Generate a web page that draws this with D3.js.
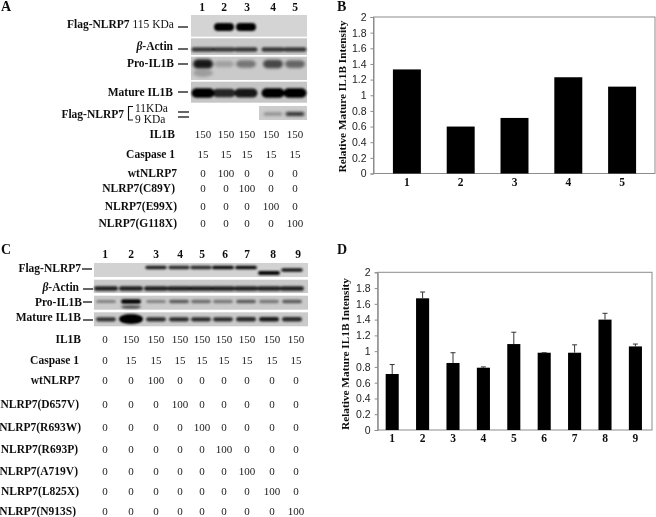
<!DOCTYPE html>
<html><head><meta charset="utf-8">
<script src="https://cdnjs.cloudflare.com/ajax/libs/d3/7.8.5/d3.min.js"></script>
<style>html,body{margin:0;padding:0;background:#fff}svg{display:block}</style>
</head><body><div id="c"></div>
<script>
// ---- data ----
const lanesA = ["1","2","3","4","5"];
const lanesC = ["1","2","3","4","5","6","7","8","9"];
const intensityB = [1.33,0.60,0.71,1.23,1.11];
const intensityD = [0.71,1.67,0.85,0.79,1.09,0.98,0.98,1.40,1.06];
const errorTopD = [0.83,1.75,0.98,0.80,1.24,0.98,1.08,1.48,1.09];
const yTicks = [0,0.2,0.4,0.6,0.8,1,1.2,1.4,1.6,1.8,2];

const rowNamesA = ["IL1B","Caspase 1","wtNLRP7","NLRP7(C89Y)","NLRP7(E99X)","NLRP7(G118X)"];
const doseA = [
 [150,150,150,150,150],[15,15,15,15,15],[0,100,0,0,0],[0,0,100,0,0],[0,0,0,100,0],[0,0,0,0,100]];
const rowNamesC = ["IL1B","Caspase 1","wtNLRP7","NLRP7(D657V)","NLRP7(R693W)","NLRP7(R693P)","NLRP7(A719V)","NLRP7(L825X)","NLRP7(N913S)"];
const doseC = [
 [0,150,150,150,150,150,150,150,150],
 [0,15,15,15,15,15,15,15,15],
 [0,0,100,0,0,0,0,0,0],
 [0,0,0,100,0,0,0,0,0],
 [0,0,0,0,100,0,0,0,0],
 [0,0,0,0,0,100,0,0,0],
 [0,0,0,0,0,0,100,0,0],
 [0,0,0,0,0,0,0,100,0],
 [0,0,0,0,0,0,0,0,100]];

// band darkness per lane, read by eye from the blots
const blotA115 = [0,1,1,0,0];
const blotAactin = [.72,.7,.72,.72,.72];
const blotApro = [.88,.2,.42,.65,.5];
const blotAmature = [1,.8,.88,1,1];
const blotAsmall = [0,0,0,.35,.78];
const blotCflag = [0,0,.85,.8,.8,.95,.95,.98,.9];
const blotCactin = [.85,.85,.85,.85,.85,.85,.85,.85,.85];
const blotCpro = [.36,1,.36,.55,.46,.4,.55,.4,.56];
const blotCmature = [.75,1,.78,.78,.78,.78,.8,.88,.8];

// ---- drawing ----
const W=656,H=517;
const svg=d3.select("#c").append("svg").attr("width",W).attr("height",H);
const defs=svg.append("defs");
defs.append("filter").attr("id","b").attr("x","-30%").attr("y","-80%").attr("width","160%").attr("height","260%")
  .append("feGaussianBlur").attr("stdDeviation",1.1);
defs.append("filter").attr("id","b2").attr("x","-30%").attr("y","-80%").attr("width","160%").attr("height","260%")
  .append("feGaussianBlur").attr("stdDeviation",1.8);
defs.append("filter").attr("id","soft").attr("filterUnits","userSpaceOnUse").attr("x",0).attr("y",0).attr("width",W).attr("height",H)
  .append("feGaussianBlur").attr("stdDeviation",0.3);
const root=svg.append("g").attr("filter","url(#soft)");
const SERIF="'Liberation Serif',serif", SANS="'Liberation Sans',sans-serif";

function txt(x,y,s,o={}){
  return root.append("text").attr("x",x).attr("y",y).text(s)
   .attr("font-family",o.font||SERIF).attr("font-size",o.size||11.5)
   .attr("font-weight",o.weight||"bold").attr("font-style",o.style||null)
   .attr("text-anchor",o.anchor||"start").attr("fill",o.fill||"#111");
}
function actin(x,y){
  const t=root.append("text").attr("x",x).attr("y",y).attr("text-anchor","end")
   .attr("font-family",SERIF).attr("font-size",11.5).attr("font-weight","bold").attr("fill","#111");
  t.append("tspan").attr("font-style","italic").text("β");
  t.append("tspan").text("-Actin");
}
function dash(x1,x2,y){root.append("line").attr("x1",x1).attr("x2",x2).attr("y1",y).attr("y2",y).attr("stroke","#111").attr("stroke-width",1.3);}

function blot(x0,x1,y0,y1,bg,vals,scale,opt){
  root.append("rect").attr("x",x0).attr("y",y0).attr("width",x1-x0).attr("height",y1-y0).attr("fill",bg);
  const g=root.append("g").attr("filter",opt.soft?"url(#b2)":"url(#b)");
  const w=opt.w, h=opt.h;
  g.selectAll("rect").data(vals).join("rect")
    .attr("x",(d,i)=>scale(i)-w/2-(opt.grow?d*2:0))
    .attr("width",d=>w+(opt.grow?d*4:0))
    .attr("y",(d,i)=>(opt.yOf?opt.yOf(i):opt.y)-h*(0.55+d*0.45)/2)
    .attr("height",d=>h*(0.55+d*0.45))
    .attr("rx",h/2).attr("fill","#050505").attr("opacity",d=>d);
}

// panel A
const laneA=d3.scaleOrdinal().domain(d3.range(5)).range([203,226,247,271,295]);
const labelA=d3.scaleOrdinal().domain(d3.range(5)).range([202,224,247,273,295]);
const bandA=d3.scaleOrdinal().domain(d3.range(5)).range([203,224,246,273,295]);
lanesA.forEach((l,i)=>txt(labelA(i),11,l,{anchor:"middle"}));
txt(1,11,"A",{size:14});
blot(191,307,15,36.7,"#d4d4d4",blotA115,bandA,{y:27,w:20,h:8});
blot(191,307,38.3,55,"#c8c8c8",blotAactin,bandA,{y:49.5,w:23,h:5});
blot(191,307,56.7,80,"#cacaca",blotApro,bandA,{y:64,w:20,h:10,soft:true});
blot(191,307,81.7,102.7,"#c6c6c6",blotAmature,bandA,{y:93,w:23,h:9.5});
blot(259,307,106,120,"#cccccc",blotAsmall,bandA,{y:114,w:19,h:4.5,soft:true});
// faint lower smear in lane 1 pro-IL1B
root.append("ellipse").attr("cx",bandA(0)).attr("cy",73).attr("rx",10).attr("ry",4).attr("fill","#8a8a8a").attr("opacity",.7).attr("filter","url(#b2)");

const t1=txt(67,28,"Flag-NLRP7",{});
t1.append("tspan").attr("font-weight","normal").text(" 115 KDa");
dash(178,188,27);
actin(173,50); dash(178,188,49);
txt(174,67,"Pro-IL1B",{anchor:"end"}); dash(178,188,64);
txt(173,96,"Mature IL1B",{anchor:"end"}); dash(178,188,92);
txt(124,118,"Flag-NLRP7",{anchor:"end"});
root.append("path").attr("d",d3.line()([[133,106.5],[128.5,106.5],[128.5,120],[133,120]])).attr("fill","none").attr("stroke","#111").attr("stroke-width",1.1);
txt(135,112,"11KDa",{weight:"normal"});
txt(135,123,"9 KDa",{weight:"normal"});
dash(178,189,112); dash(178,189,117);

const rowYA=d3.scaleOrdinal().domain(rowNamesA).range([138,158,177,192,210,227]);
const rowXA=d3.scaleOrdinal().domain(rowNamesA).range([175,175,177,175,177,177]);
rowNamesA.forEach((n,r)=>{
  txt(rowXA(n),rowYA(n),n,{anchor:"end"});
  doseA[r].forEach((v,i)=>txt(laneA(i),rowYA(n),v,{anchor:"middle",weight:"normal",fill:"#222",size:11}));
});

// panel C
const laneC=d3.scaleOrdinal().domain(d3.range(9)).range([105,131,156,180,202,224,247,272,296]);
const labelC=d3.scaleOrdinal().domain(d3.range(9)).range([105,131,156,180,202,225,247,273,298]);
const bandC=d3.scaleOrdinal().domain(d3.range(9)).range([106,131,156,179,201,223,246,269,292]);
lanesC.forEach((l,i)=>txt(labelC(i),258,l,{anchor:"middle"}));
txt(1,254,"C",{size:14});
const flagY=i=>i===7?273:(i===8?270:267.5);
blot(94,308,263,277,"#d2d2d2",blotCflag,bandC,{yOf:flagY,w:18,h:3.8,grow:true});
blot(94,308,279.7,293,"#cacaca",blotCactin,bandC,{y:288.5,w:24,h:4.8});
blot(94,308,295.7,309.7,"#cacaca",blotCpro,bandC,{y:301.5,w:20,h:4.5});
blot(94,308,312.3,326.3,"#cacaca",blotCmature,bandC,{y:319.3,w:20,h:4.8});
// heavy lane 2 signal
root.append("ellipse").attr("cx",bandC(1)).attr("cy",319).attr("rx",12).attr("ry",5).attr("fill","#000").attr("filter","url(#b)");
root.append("ellipse").attr("cx",bandC(1)).attr("cy",307).attr("rx",10).attr("ry",1.6).attr("fill","#444").attr("filter","url(#b)");

txt(81,272,"Flag-NLRP7",{anchor:"end"}); dash(82,92,269);
actin(79,291); dash(83,93,289);
txt(82,305.7,"Pro-IL1B",{anchor:"end"}); dash(83,92,302);
txt(81,321,"Mature IL1B",{anchor:"end"}); dash(83,93,320);

const rowYC=d3.scaleOrdinal().domain(rowNamesC).range([342.7,363.7,384,407.7,431,453,475,495,515]);
const rowXC=d3.scaleOrdinal().domain(rowNamesC).range([81,79,80,79,81,78,78,79,76]);
rowNamesC.forEach((n,r)=>{
  txt(rowXC(n),rowYC(n),n,{anchor:"end"});
  doseC[r].forEach((v,i)=>txt(laneC(i),rowYC(n),v,{anchor:"middle",weight:"normal",fill:"#222",size:11}));
});

// bar charts
function barChart(o){
  const g=root.append("g");
  const y=d3.scaleLinear().domain([0,2]).range([o.bottom,o.top]);
  const x=d3.scaleBand().domain(o.lanes).range([o.bandL,o.bandR]).paddingInner(o.pad).paddingOuter(o.pad/2);
  g.append("rect").attr("x",o.left).attr("y",o.top).attr("width",o.right-o.left).attr("height",o.bottom-o.top)
    .attr("fill","#fff").attr("stroke","#8c8c8c").attr("stroke-width",1);
  g.selectAll(".bar").data(o.values).join("rect").attr("class","bar")
    .attr("x",(d,i)=>x(o.lanes[i])).attr("width",x.bandwidth())
    .attr("y",d=>y(d)).attr("height",d=>y(0)-y(d)).attr("fill","#000");
  if(o.errTop){
    const cx=i=>x(o.lanes[i])+x.bandwidth()/2;
    g.selectAll(".err").data(o.errTop).join("path").attr("class","err")
     .attr("d",(d,i)=>`M${cx(i)},${y(o.values[i])}V${y(d)}M${cx(i)-2.5},${y(d)}H${cx(i)+2.5}`)
     .attr("fill","none").attr("stroke","#333").attr("stroke-width",1);
  }
  const axis=d3.axisLeft(y).tickValues(yTicks).tickSize(3).tickFormat(d=>String(d));
  const a=g.append("g").attr("transform",`translate(${o.left},0)`).call(axis);
  a.select(".domain").attr("stroke","#8c8c8c");
  a.selectAll(".tick line").attr("stroke","#8c8c8c");
  a.selectAll("text").attr("font-family",SANS).attr("font-size",10.5).attr("fill","#222").attr("dx",-1);
  o.lanes.forEach(l=>txt(x(l)+x.bandwidth()/2,o.labelY,l,{anchor:"middle"}));
  root.append("text").attr("transform",`translate(${o.titleX},${o.titleY}) rotate(-90)`)
    .attr("text-anchor","middle").attr("font-family",SERIF).attr("font-weight","bold").attr("font-size",11.3).attr("fill","#111")
    .text("Relative Mature IL1B Intensity");
}
txt(337,11,"B",{size:14});
barChart({lanes:lanesA,values:intensityB,left:373.5,right:655,top:17,bottom:173.5,bandL:380,bandR:649,pad:0.48,labelY:186,titleX:346,titleY:96.5});
txt(337,254,"D",{size:14});
barChart({lanes:lanesC,values:intensityD,errTop:errorTopD,left:377.7,right:652,top:272.3,bottom:430,bandL:377,bandR:650.6,pad:0.57,labelY:442,titleX:349,titleY:354});
</script></body></html>
